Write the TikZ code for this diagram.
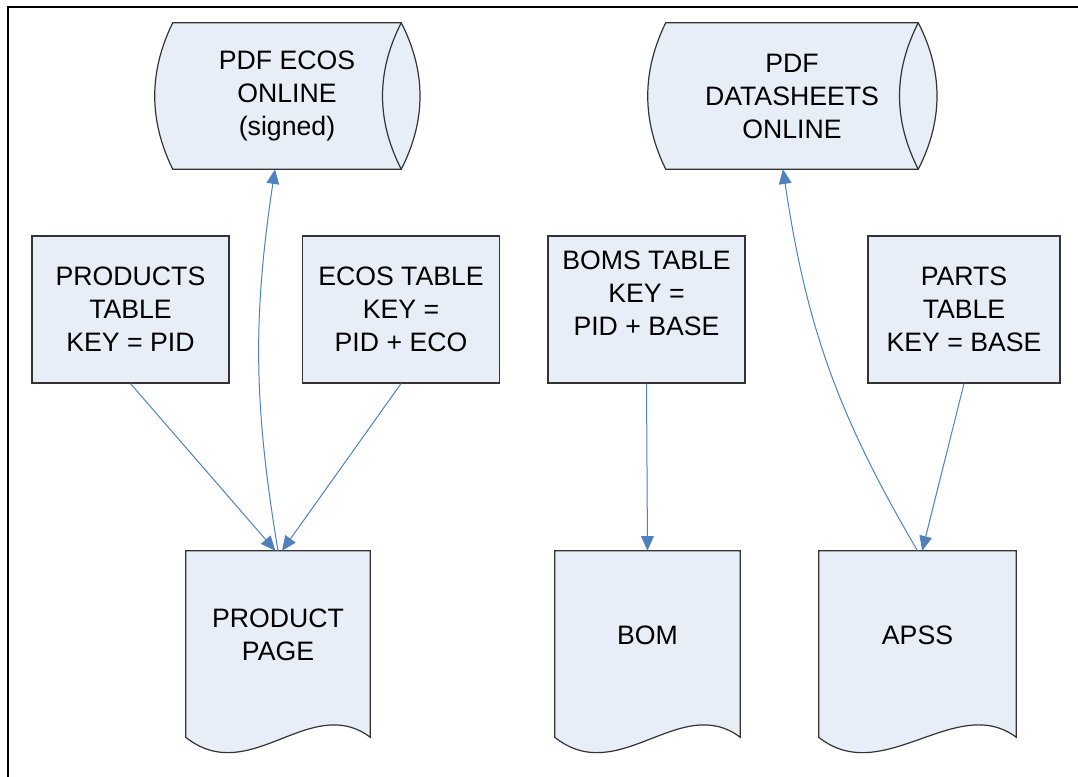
\documentclass[tikz,border=0pt]{standalone}
\usepackage{fontspec}
\setmainfont{Liberation Sans}
\usepackage{xcolor}
\usetikzlibrary{shapes.geometric, positioning, calc, arrows.meta, backgrounds}

\definecolor{boxfill}{RGB}{232,238,247}
\definecolor{linkblue}{RGB}{79,129,189}

% wavy bottom of a document node
\newcommand{\docshape}[1]{%
  \begin{scope}[on background layer]
    \draw[draw=black!80, line width=0.9pt, fill=boxfill]
      (#1.north west) -- (#1.north east) -- ($(#1.south east)+(0,18)$)
      .. controls +(-60,-45) and +(64,51) .. ($(#1.south west)+(0,18)$) -- cycle;
  \end{scope}}

% lying drum round a store node
\newcommand{\dbshape}[1]{%
  \begin{scope}[on background layer]
    \draw[draw=black!80, line width=0.9pt, fill=boxfill]
      (#1.north west) -- (#1.north east)
      .. controls +(25,49) and +(25,-49) .. (#1.south east)
      -- (#1.south west)
      .. controls +(-24,-49) and +(-24,49) .. (#1.north west) -- cycle;
    \draw[draw=black!80, line width=0.9pt]
      (#1.north east) .. controls +(-25,49) and +(-25,-49) .. (#1.south east);
  \end{scope}}

\begin{document}
\begin{tikzpicture}[x=0.75pt, y=-0.75pt,
    font=\fontsize{20}{24.75}\selectfont,
    dbase/.style={rectangle, minimum height=109.5pt, align=center, inner sep=0pt},
    table/.style={rectangle, draw=black!80, line width=0.9pt, fill=boxfill,
      minimum width=147.75pt, minimum height=110.25pt, align=center, inner sep=0pt},
    docbox/.style={rectangle, minimum width=138pt, minimum height=126pt,
      align=center, inner sep=0pt},
    link/.style={draw=linkblue, line width=0.75pt, -{Triangle[length=11pt,width=9.5pt]}}]

    \useasboundingbox (0,0) rectangle (1078,777);

    % Frame
    \draw[line width=1.5pt] (8,777) |- (1078,7);

    % Online stores
    \node[dbase, minimum width=171pt] (cyl1) at (287,96) {PDF ECOS\\ONLINE\\(signed)};
    \node[dbase, minimum width=189pt] (cyl2) at (792,96) {PDF\\DATASHEETS\\ONLINE};
    \dbshape{cyl1}
    \dbshape{cyl2}

    % Tables
    \node[table] (prod) at (130.5,309.5) {PRODUCTS\\TABLE\\KEY = PID};
    \node[table] (ecos) at (401,309.5) {ECOS TABLE\\KEY =\\PID + ECO};
    \node[table] (boms) at (646.5,309.5) {BOMS TABLE\\KEY =\\PID + BASE\\\mbox{}};
    \node[table, minimum width=144pt] (parts) at (964,309.5) {PARTS\\TABLE\\KEY = BASE};

    % Documents
    \node[docbox] (page) at (278,635) {PRODUCT\\PAGE};
    \node[docbox, minimum width=138.75pt] (bom) at (647.5,635) {BOM};
    \node[docbox, minimum width=147.75pt] (apss) at (917.5,635) {APSS};
    \docshape{page}
    \docshape{bom}
    \docshape{apss}

    % Links
    \draw[link] (prod.south) -- ([xshift=-2pt]page.north);
    \draw[link] (ecos.south) -- ([xshift=3pt]page.north);
    \draw[link] (page.north) to[bend left=9] ([xshift=-9pt]cyl1.south);
    \draw[link] (boms.south) -- (bom.north);
    \draw[link] (parts.south) -- ([xshift=3.5pt]apss.north);
    \draw[link] (apss.north) to[bend left=11] ([xshift=-6.75pt]cyl2.south);

\end{tikzpicture}
\end{document}
